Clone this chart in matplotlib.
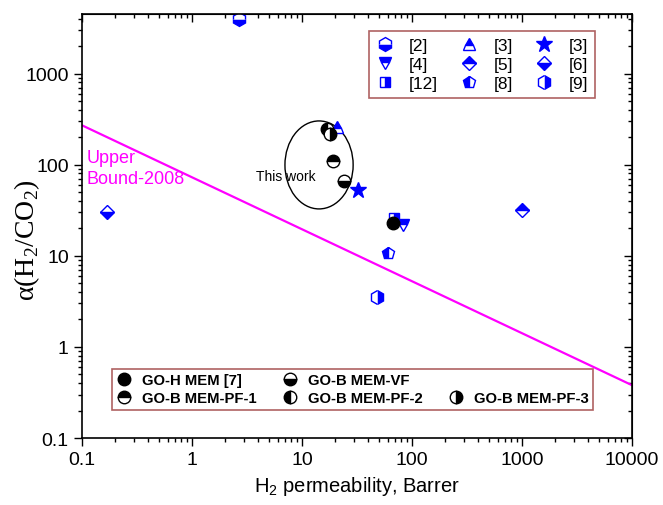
import matplotlib
matplotlib.use('Agg')
import matplotlib.pyplot as plt
from matplotlib.patches import Ellipse
from matplotlib.lines import Line2D

# literature points (H2 permeability, selectivity)
ref_labels = ['[2]', '[4]', '[12]', '[3]', '[5]', '[8]', '[3]', '[6]', '[9]']
ref_x = [2.7, 82, 68, 21, 1000, 60, 32, 0.17, 48]
ref_y = [4000, 21.5, 26, 260, 32, 10.8, 53, 30, 3.5]
ref_markers = ['h', 'v', 's', '^', 'D', 'p', '*', 'D', 'h']
ref_fills = ['bottom', 'top', 'right', 'top', 'top', 'left', 'full', 'bottom', 'right']

# this work + [7]
mem_labels = ['GO-H MEM [7]', 'GO-B MEM-PF-1', 'GO-B MEM-VF', 'GO-B MEM-PF-2', None, 'GO-B MEM-PF-3']
mem_x = [67, 19, 24, 17, None, 18]
mem_y = [23, 110, 66, 245, None, 215]
mem_fills = ['full', 'top', 'bottom', 'left', None, 'right']

# Robeson upper bound 2008 (end points)
ub_x = [0.1, 10000]
ub_y = [270, 0.38]

plt.rcParams['font.family'] = 'Liberation Sans'

fig = plt.figure(figsize=(6.63, 5.06), dpi=100)
ax = fig.add_axes([0.1237, 0.1324, 0.8295, 0.838])

ax.plot(ub_x, ub_y, color='#ff00ff', lw=1.6)

msizes = {'h': 10, 'v': 9, 's': 7.5, '^': 9, 'D': 7.5, 'p': 9, '*': 12}
ref_handles = []
for lab, x, y, m, fs in zip(ref_labels, ref_x, ref_y, ref_markers, ref_fills):
    h, = ax.plot([x], [y], ls='none', marker=m, ms=msizes[m], color='blue', mec='blue',
                 fillstyle=fs, markerfacecoloralt='white', mew=1.0, label=lab)
    ref_handles.append(h)

mem_handles = []
for lab, x, y, fs in zip(mem_labels, mem_x, mem_y, mem_fills):
    if lab is None:
        mem_handles.append(Line2D([], [], ls='none', marker=None, label=' '))
        continue
    h, = ax.plot([x], [y], ls='none', marker='o', ms=9, color='black', mec='black',
                 fillstyle=fs, markerfacecoloralt='white', mew=1.0, label=lab)
    mem_handles.append(h)

ax.add_patch(Ellipse((0.431, 0.644), 0.124, 0.2075, transform=ax.transAxes,
                     fill=False, ec='black', lw=1.0))
ax.text(0.371, 0.617, 'This work', transform=ax.transAxes, fontsize=10,
        ha='center', va='center')
ax.text(0.008, 0.637, 'Upper\nBound-2008', transform=ax.transAxes, fontsize=13,
        color='#ff00ff', ha='left', va='center', linespacing=1.25)

ax.set_xscale('log')
ax.set_yscale('log')
ax.set_xlim(0.1, 10000)
ax.set_ylim(0.1, 4500)
ax.set_xticks([0.1, 1, 10, 100, 1000, 10000])
ax.set_xticklabels(['0.1', '1', '10', '100', '1000', '10000'])
ax.set_yticks([0.1, 1, 10, 100, 1000])
ax.set_yticklabels(['0.1', '1', '10', '100', '1000'])

ax.tick_params(which='major', direction='out', length=6, width=1, labelsize=14)
ax.tick_params(which='minor', direction='out', length=3, width=1)
for s in ax.spines.values():
    s.set_linewidth(1.2)

top = ax.secondary_xaxis('top')
top.tick_params(which='major', direction='in', length=6, width=1, labeltop=False)
top.tick_params(which='minor', direction='in', length=3, width=1)
top.set_xticks([0.1, 1, 10, 100, 1000, 10000])
top.set_xticklabels([])
right = ax.secondary_yaxis('right')
right.tick_params(which='major', direction='in', length=6, width=1, labelright=False)
right.tick_params(which='minor', direction='in', length=3, width=1)
right.set_yticks([0.1, 1, 10, 100, 1000])
right.set_yticklabels([])

ax.set_xlabel(r'H$_\mathregular{2}$ permeability, Barrer', fontsize=14.5, labelpad=4)
ax.set_ylabel(r'α(H$_\mathregular{2}$/CO$_\mathregular{2}$)', fontsize=20,
              family='Liberation Serif')
ax.yaxis.set_label_coords(-0.072, 0.47)

leg1 = ax.legend(handles=ref_handles, ncol=3, loc='upper right',
                 bbox_to_anchor=(0.933, 0.96), borderaxespad=0, fontsize=12.5,
                 frameon=True, fancybox=False, edgecolor='#9b3a3a',
                 handlelength=1.0, columnspacing=1.3, handletextpad=0.9,
                 borderpad=0.4, labelspacing=0.22)
leg1.get_frame().set_linewidth(1.2)
ax.add_artist(leg1)

leg2 = ax.legend(handles=mem_handles, ncol=3, loc='upper left',
                 bbox_to_anchor=(0.0545, 0.163), borderaxespad=0,
                 prop={'size': 10.7, 'weight': 'bold'},
                 frameon=True, fancybox=False, edgecolor='#9b3a3a',
                 handlelength=1.0, columnspacing=1.75, handletextpad=0.7,
                 borderpad=0.3, labelspacing=0.25)
leg2.get_frame().set_linewidth(1.2)

fig.savefig('out.png', dpi=100)
